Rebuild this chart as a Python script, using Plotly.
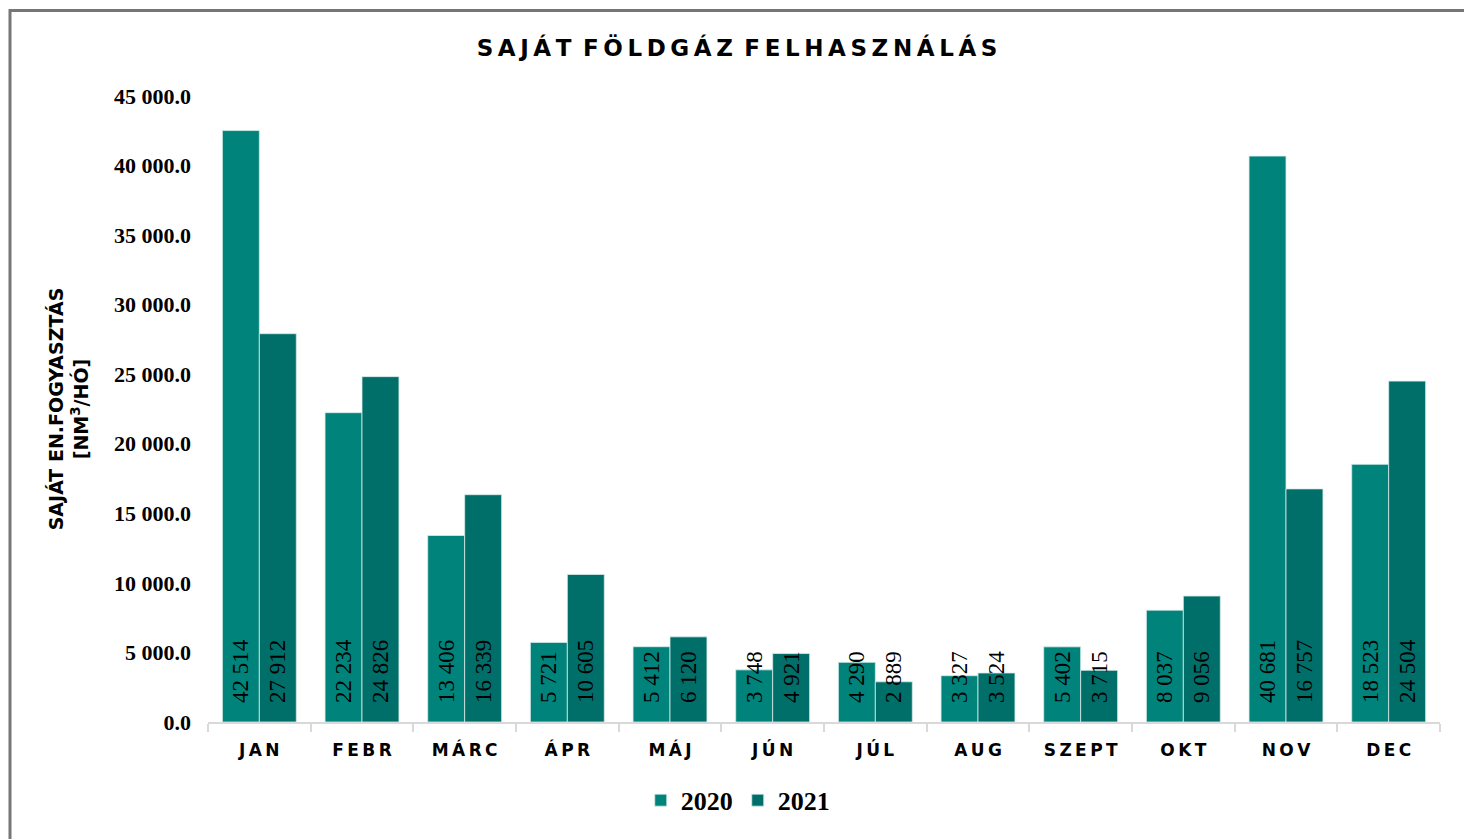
import plotly.graph_objects as go

months = ["JAN", "FEBR", "MÁRC", "ÁPR", "MÁJ", "JÚN", "JÚL", "AUG", "SZEPT", "OKT", "NOV", "DEC"]
values_2020 = [42514, 22234, 13406, 5721, 5412, 3748, 4290, 3327, 5402, 8037, 40681, 18523]
values_2021 = [27912, 24826, 16339, 10605, 6120, 4921, 2889, 3524, 3715, 9056, 16757, 24504]
series_names = ["2020", "2021"]
y_ticks = [0, 5000, 10000, 15000, 20000, 25000, 30000, 35000, 40000, 45000]

def spaced(s, sep="\u200a"):
    return sep.join(list(s))

tick_text = [spaced(m, "\u2009") for m in months]

colors = ["#00837B", "#006E69"]
serif = "Liberation Serif"
sans = "DejaVu Sans"

fig = go.Figure()
for name, vals, col in zip(series_names, [values_2020, values_2021], colors):
    fig.add_trace(go.Bar(
        x=months, y=vals, name=name,
        marker=dict(color=col, line=dict(color="#d7ecea", width=0.8)),
        texttemplate="\u2007\u2009%{y:,.0f}",
        textposition="inside",
        insidetextanchor="start",
        textangle=-90,
        constraintext="none",
        cliponaxis=False,
        textfont=dict(family=serif, size=23, color="black"),
    ))

title_text = "\u2002".join(spaced(w, "\u2009") for w in ["SAJÁT", "FÖLDGÁZ", "FELHASZNÁLÁS"])

fig.update_layout(
    width=1472, height=839,
    paper_bgcolor="white", plot_bgcolor="white",
    separators=". ",
    barmode="group",
    bargap=0.28, bargroupgap=0,
    margin=dict(l=200, r=40, t=88, b=125),
    title=dict(text=title_text,
               x=(737 - 8) / 1472, xanchor="center", y=1 - (48 - 8) / 839, yanchor="middle",
               font=dict(family=sans, size=23, color="black", weight="bold")),
    showlegend=True,
    legend=dict(orientation="h", x=0.43, xanchor="center", y=-0.125, yanchor="middle",
                font=dict(family=serif, size=26, color="black", weight="bold"),
                itemwidth=30, traceorder="normal"),
    xaxis=dict(
        tickmode="array", tickvals=months, ticktext=tick_text,
        tickfont=dict(family=sans, size=17, color="black", weight="bold"),
        showline=True, linecolor="#d9d9d9", linewidth=2,
        ticks="outside", tickson="boundaries", ticklen=8, tickcolor="#d9d9d9", tickwidth=2,
        ticklabelstandoff=12,
        showgrid=False,
    ),
    yaxis=dict(
        range=[0, 45000], tickvals=y_ticks, tickformat=",.1f",
        tickfont=dict(family=serif, size=22, color="black", weight="bold"),
        showgrid=False, showline=False, zeroline=False,
        ticks="", ticklabelstandoff=16,
        title=dict(text="SAJÁT EN.FOGYASZTÁS<br>[NM<sup>3</sup>/HÓ]",
                   font=dict(family=sans, size=19, color="black", weight="bold"),
                   standoff=20),
    ),
    shapes=[dict(type="rect", xref="paper", yref="paper",
                 x0=(2 - 200) / 1232, x1=(1480 - 200) / 1232,
                 y0=(714 - 850) / 626, y1=(714 - 2.5) / 626,
                 line=dict(color="#767676", width=3), layer="below")],
)

fig.write_html("out.html")
